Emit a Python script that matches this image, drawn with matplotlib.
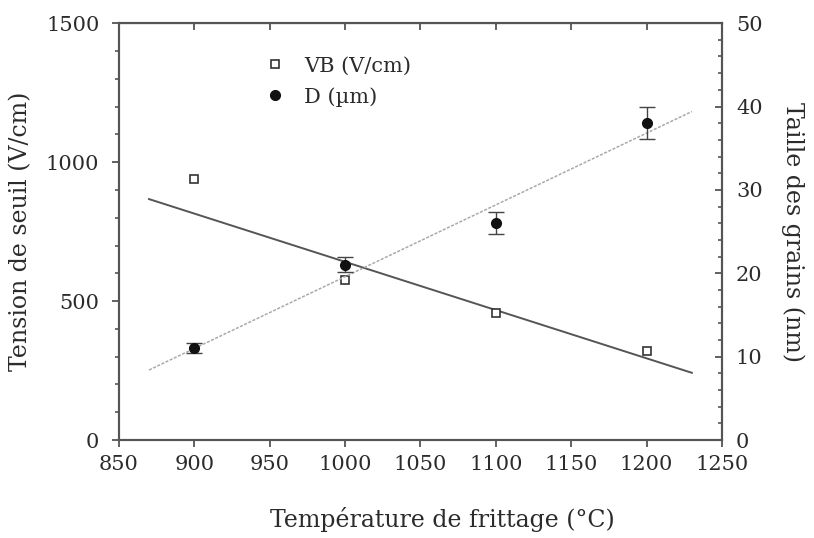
import matplotlib.pyplot as plt

# sintering temperature (°C)
temp = [900, 1000, 1100, 1200]
# threshold voltage VB (V/cm), left axis
vb = [938, 576, 456, 320]
# grain size D (µm), right axis
d = [11.0, 21.0, 26.0, 38.0]
d_err = [0.6, 0.9, 1.3, 1.9]

# fit lines as drawn in the figure (end points)
fit_x = [870, 1230]
vb_fit = [867, 242]
d_fit = [8.4, 39.4]

plt.rcParams['font.family'] = ['DejaVu Serif']
txt = '#2b2b2b'

fig = plt.figure(figsize=(8.14, 5.38), dpi=100)
ax = fig.add_axes([0.146, 0.182, 0.741, 0.775])
ax2 = ax.twinx()

ax.plot(fit_x, vb_fit, color='#555555', lw=1.4, zorder=2)
ax.plot(temp, vb, 's', mfc='white', mec='#333333', mew=1.2, ms=6,
        label='VB (V/cm)', zorder=3)

ax2.plot(fit_x, d_fit, color='#aaaaaa', lw=1.1, ls=(0, (2, 1)), zorder=2)
ax2.errorbar(temp, d, yerr=d_err, fmt='none', ecolor='#444444',
             elinewidth=1, capsize=6, capthick=1, zorder=3)
ax2.plot(temp, d, 'o', color='#111111', ms=7, label='D (µm)', zorder=4)

ax.set_xlim(850, 1250)
ax.set_ylim(0, 1500)
ax2.set_ylim(0, 50)
ax.set_xticks(range(850, 1251, 50))
ax.set_yticks([0, 500, 1000, 1500])
ax.set_yticks(range(0, 1501, 100), minor=True)
ax2.set_yticks([0, 10, 20, 30, 40, 50])
ax2.set_yticks(range(0, 51, 2), minor=True)

for a in (ax, ax2):
    for s in a.spines.values():
        s.set_color('#555555')
        s.set_linewidth(1.5)

ax.tick_params(axis='x', direction='out', length=5, width=1.3,
               colors='#555555', labelcolor=txt, labelsize=15, pad=6)
ax.tick_params(axis='y', which='major', direction='out', length=5,
               width=1.3, colors='#555555', labelcolor=txt, labelsize=15,
               pad=9)
ax.tick_params(axis='y', which='minor', direction='out', length=3,
               width=1.2, colors='#555555')
ax2.tick_params(axis='y', which='major', direction='in', length=5,
                width=1.3, colors='#555555', labelcolor=txt, labelsize=15,
                pad=10)
ax2.tick_params(axis='y', which='minor', direction='in', length=3,
                width=1.2, colors='#555555')

# inward ticks on the top edge
top = ax.secondary_xaxis('top')
top.set_xticks(range(850, 1251, 50))
top.tick_params(direction='in', length=5, width=1.3, colors='#555555',
                labeltop=False)

ax.set_xlabel('Température de frittage (°C)', fontsize=17, color=txt)
ax.xaxis.set_label_coords(0.537, -0.16)
ax.set_ylabel('Tension de seuil (V/cm)', fontsize=17, color=txt,
              labelpad=10)
ax2.set_ylabel('Taille des grains (nm)', fontsize=17, color=txt,
               rotation=270, labelpad=30)

h1, l1 = ax.get_legend_handles_labels()
h2, l2 = ax2.get_legend_handles_labels()
leg = ax.legend(h1 + h2, l1 + l2, loc='upper left',
                bbox_to_anchor=(0.21, 0.965), frameon=False, fontsize=15,
                handlelength=1.0, handletextpad=0.9, labelspacing=0.55)
for t in leg.get_texts():
    t.set_color(txt)

fig.savefig('out.png', dpi=100)
